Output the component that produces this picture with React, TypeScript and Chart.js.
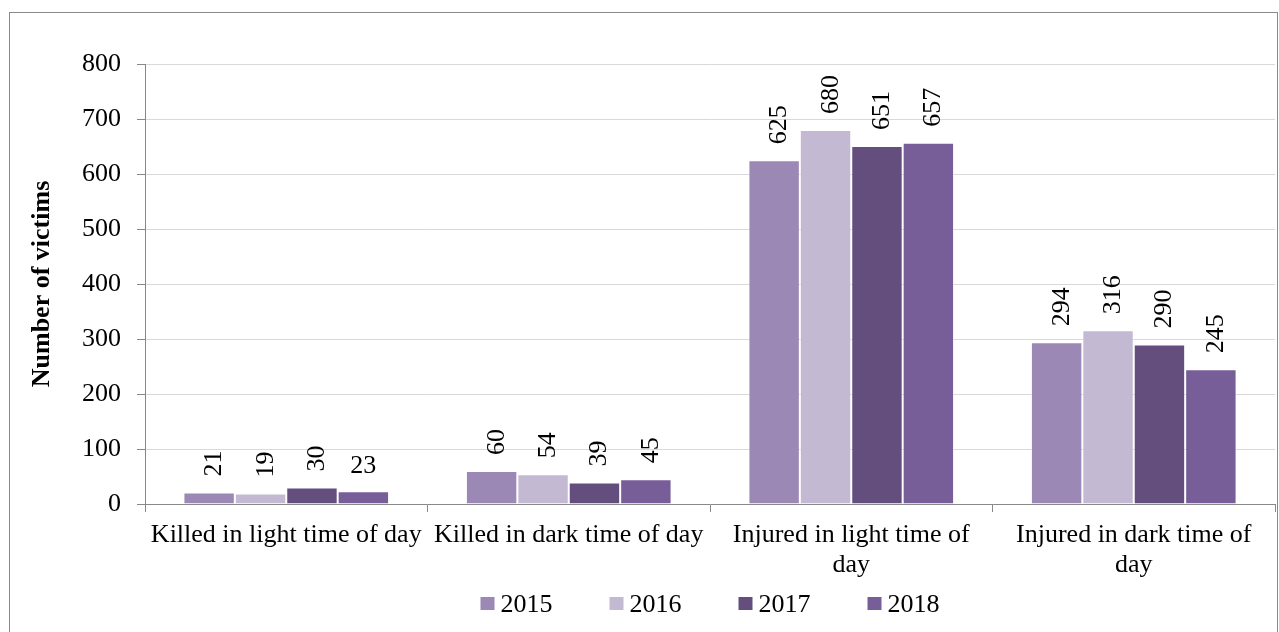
import React, { useEffect, useRef } from 'react';
import { Chart, registerables } from 'chart.js';

Chart.register(...registerables);

const categories: string[][] = [
  ['Killed in light time of day'],
  ['Killed in dark time of day'],
  ['Injured in light time of', 'day'],
  ['Injured in dark time of', 'day'],
];
const years = ['2015', '2016', '2017', '2018'];
const values2015 = [21, 60, 625, 294];
const values2016 = [19, 54, 680, 316];
const values2017 = [30, 39, 651, 290];
const values2018 = [23, 45, 657, 245];
const seriesValues = [values2015, values2016, values2017, values2018];
const colors = ['#9b88b4', '#c3b9d3', '#634e7e', '#775e98'];
const yMin = 0;
const yMax = 800;
const yStep = 100;
const yTitle = 'Number of victims';
// labels (dataset index, point index) drawn unrotated in the reference
const horizontalLabels: [number, number][] = [[3, 0]];

const FONT = '"Liberation Serif", "Times New Roman", serif';

const dataLabelPlugin = {
  id: 'dataLabels',
  afterDatasetsDraw(chart: any) {
    const ctx = chart.ctx;
    chart.data.datasets.forEach((ds: any, di: number) => {
      const meta = chart.getDatasetMeta(di);
      meta.data.forEach((bar: any, i: number) => {
        const text = String(ds.data[i]);
        const horiz = horizontalLabels.some(([a, b]) => a === di && b === i);
        ctx.save();
        ctx.font = `26px ${FONT}`;
        ctx.fillStyle = '#000';
        ctx.textBaseline = 'alphabetic';
        if (horiz) {
          ctx.textAlign = 'center';
          ctx.fillText(text, bar.x, bar.y - 18);
        } else {
          ctx.translate(bar.x + 12, bar.y - 16);
          ctx.rotate(-Math.PI / 2);
          ctx.textAlign = 'left';
          ctx.fillText(text, 0, 0);
        }
        ctx.restore();
      });
    });
  },
};

const legendPlugin = {
  id: 'customLegend',
  afterDraw(chart: any) {
    const ctx = chart.ctx;
    const area = chart.chartArea;
    const box = 14;
    const boxGap = 6;
    const itemGap = 57;
    ctx.save();
    ctx.font = `26px ${FONT}`;
    const items = chart.data.datasets.map((ds: any) => ({
      label: ds.label,
      color: ds.backgroundColor,
      w: box + boxGap + ctx.measureText(ds.label).width,
    }));
    const total = items.reduce((s: number, it: any) => s + it.w, 0) + itemGap * (items.length - 1);
    let x = (area.left + area.right) / 2 - total / 2;
    const baseY = chart.height - 20;
    items.forEach((it: any) => {
      ctx.fillStyle = it.color;
      ctx.fillRect(x, baseY - 15, box, 13);
      ctx.fillStyle = '#000';
      ctx.textAlign = 'left';
      ctx.textBaseline = 'alphabetic';
      ctx.fillText(it.label, x + box + boxGap, baseY);
      x += it.w + itemGap;
    });
    ctx.restore();
  },
};

export default function App() {
  const ref = useRef<HTMLCanvasElement | null>(null);
  useEffect(() => {
    if (!ref.current) return;
    const chart = new Chart(ref.current, {
      type: 'bar',
      data: {
        labels: categories as any,
        datasets: years.map((y, i) => ({
          label: y,
          data: seriesValues[i],
          backgroundColor: colors[i],
          borderColor: 'rgba(255,255,255,0.35)',
          borderWidth: 1,
          barPercentage: 1,
          categoryPercentage: 0.728,
        })),
      },
      options: {
        animation: false,
        responsive: true,
        maintainAspectRatio: false,
        layout: { padding: { left: 0, top: 64, right: 4, bottom: 0 } },
        plugins: { legend: { display: false }, tooltip: { enabled: false } },
        scales: {
          x: {
            grid: { display: true, drawOnChartArea: false, tickLength: 8, tickColor: '#888', offset: true },
            border: { color: '#888', width: 1 },
            ticks: {
              font: { family: FONT, size: 26, lineHeight: 1.15 },
              color: '#000',
              padding: 8,
              maxRotation: 0,
              autoSkip: false,
            },
            afterFit: (s: any) => { s.height = 128; },
          },
          y: {
            min: yMin,
            max: yMax,
            ticks: { stepSize: yStep, font: { family: FONT, size: 26 }, color: '#000', padding: 16 },
            grid: { color: '#d9d9d9', tickColor: '#888', tickLength: 8 },
            border: { color: '#888', width: 1 },
            title: {
              display: true,
              text: yTitle,
              color: '#000',
              font: { family: FONT, size: 26, weight: 'bold' },
              padding: { top: 27, bottom: 0 },
            },
            afterFit: (s: any) => { s.width = 145; },
          },
        },
      },
      plugins: [dataLabelPlugin, legendPlugin],
    });
    return () => chart.destroy();
  }, []);

  return (
    <>
      <div
        style={{
          position: 'fixed',
          left: 9,
          top: 12,
          width: 1269,
          height: 640,
          border: '1px solid #8a8a8a',
          boxSizing: 'border-box',
          background: '#fff',
        }}
      />
      <div style={{ position: 'fixed', left: 0, top: 0, width: 1279, height: 632 }}>
        <canvas ref={ref} />
      </div>
    </>
  );
}
